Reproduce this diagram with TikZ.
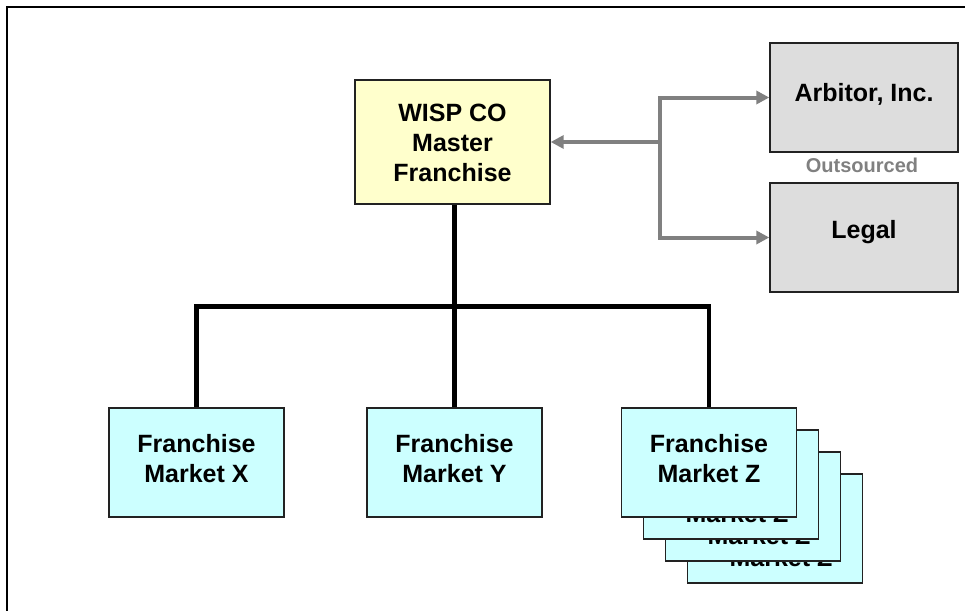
\documentclass[tikz,border=0pt]{standalone}
\usepackage{fontspec}
\setmainfont{Liberation Sans}
\usetikzlibrary{arrows.meta,calc}

\definecolor{marketfill}{HTML}{CCFFFF}
\definecolor{masterfill}{HTML}{FFFFCC}
\definecolor{outfill}{HTML}{DDDDDD}
\definecolor{linkgray}{HTML}{808080}
\definecolor{edgegray}{HTML}{222222}

\tikzset{
  box/.style={draw=edgegray, line width=1.4pt, inner sep=0pt},
  marketbox/.style={box, fill=marketfill, minimum width=175pt, minimum height=109pt},
  masterbox/.style={box, fill=masterfill, minimum width=195pt, minimum height=124pt},
  outbox/.style={box, fill=outfill, minimum width=188pt, minimum height=109pt},
  boxtext/.style={font=\bfseries\fontsize{25}{30}\selectfont, align=center, inner sep=0pt},
  notetext/.style={font=\bfseries\fontsize{20}{24}\selectfont, text=linkgray, inner sep=0pt},
  bus/.style={line width=4.5pt, black},
  link/.style={line width=4pt, linkgray, -{Triangle[length=13pt,width=13pt]}},
  frameline/.style={line width=2pt, black}
}

\begin{document}
\begin{tikzpicture}[x=1pt, y=-1pt]
  \useasboundingbox (0,0) rectangle (965,610);
  \clip (0,0) rectangle (965,610);

  % page frame (runs off to the right and bottom)
  \draw[frameline] (7,620) -- (7,7) -- (975,7);

  % head office
  \node[masterbox] (master) at (452.5,142) {};
  \node[boxtext, yshift=-1pt] (mastertxt) at (master.center) {WISP CO\\Master\\Franchise};

  % outsourced services
  \node[outbox] (arb) at (864,97.5) {};
  \node[boxtext, yshift=3pt] (arbtxt) at (arb.center) {Arbitor, Inc.};
  \node[outbox] (legal) at (864,237.5) {};
  \node[boxtext, yshift=5pt] (legaltxt) at (legal.center) {Legal};
  \node[notetext, xshift=-2pt, yshift=2.5pt] (note) at ($(arb.south)!0.5!(legal.north)$) {Outsourced};

  % franchise markets
  \node[marketbox] (mx) at (196.5,462.5) {};
  \node[boxtext, yshift=3.5pt] (mxtxt) at (mx.center) {Franchise\\Market X};
  \node[marketbox] (my) at (454.5,462.5) {};
  \node[boxtext, yshift=3.5pt] (mytxt) at (my.center) {Franchise\\Market Y};

  % stack of Market Z offices, back to front
  \foreach \k/\dx in {3/66,2/44,1/22}{
    \node[marketbox] (mz\k) at (709+\dx,462.5+\dx) {};
    \node[boxtext, xshift=6pt, yshift=-14.5pt] (mz\k txt) at (mz\k.center) {Franchise\\Market Z};
  }
  \node[marketbox] (mz) at (709,462.5) {};
  \node[boxtext, yshift=3.5pt] (mztxt) at (mz.center) {Franchise\\Market Z};

  % reporting lines
  \coordinate (busy) at (0,306.5);
  \draw[bus] (master.south -| my.north) -- (my.north);
  \draw[bus] (mx.north) -- (mx.north |- busy) -- (mz.north |- busy) -- (mz.north);

  % links to outsourced services
  \coordinate (hub) at (master.east -| 660,0);
  \draw[link] (hub) -- (master.east);
  \draw[link] (hub) |- (arb.west);
  \draw[link] (hub) |- (legal.west);
\end{tikzpicture}
\end{document}
